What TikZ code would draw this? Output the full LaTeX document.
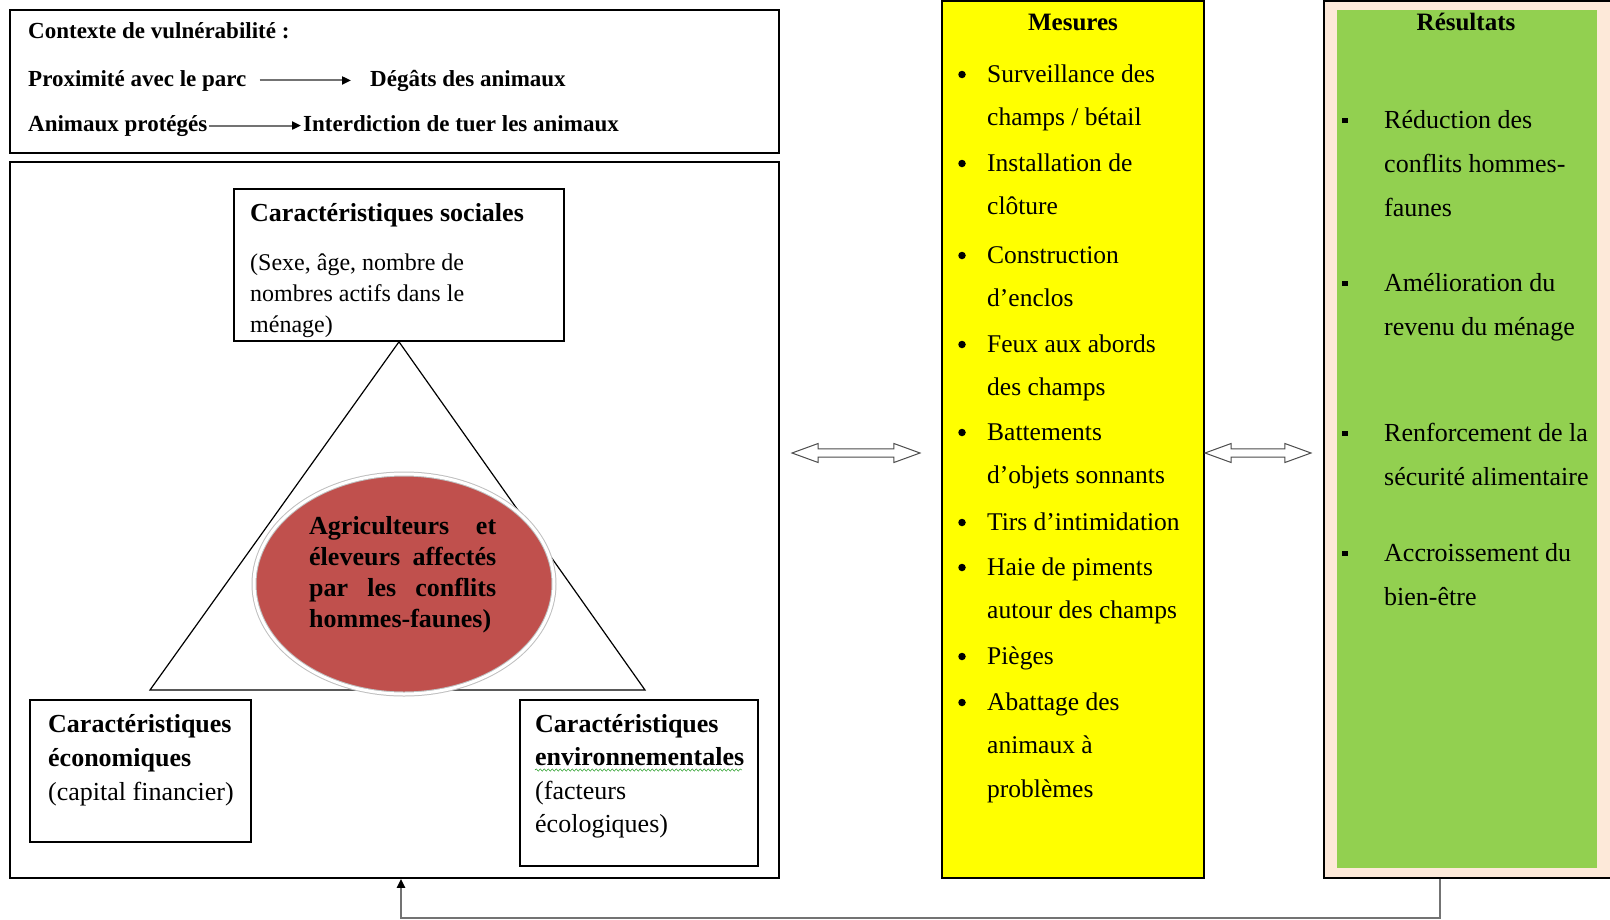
\documentclass[tikz,border=0pt]{standalone}
\usepackage{fontspec}
\setmainfont{Liberation Serif}
\usetikzlibrary{
  arrows.meta,
  calc,
  decorations.pathmorphing,
  positioning,
  shapes.arrows,
  shapes.geometric,
}
\definecolor{jaune}{HTML}{FFFF00}
\definecolor{vert}{HTML}{92D050}
\definecolor{rose}{HTML}{FDE9D9}
\definecolor{brique}{HTML}{C0504D}
\newcommand\taille[2]{\fontsize{#1}{#2}\selectfont}
\newcommand\pile[1]{\begin{tabular}[t]{@{}l@{}}#1\end{tabular}}
\tikzset{
  >={Triangle[length=9pt,width=8pt,color=black]},
  cadre/.style={rectangle,draw,line width=1.6pt,inner sep=0pt},
  texte/.style={inner sep=0pt,anchor=base west},
  ctx/.style={texte,font=\bfseries\taille{23}{23}},
  titre/.style={inner sep=0pt,anchor=base,font=\bfseries\taille{25}{25}},
  puce/.style={circle,fill,inner sep=0pt,minimum size=7.5pt},
  carre/.style={rectangle,fill,inner sep=0pt,minimum size=5.5pt},
  lien/.style={draw=black!55,line width=2pt},
  flechedouble/.style={double arrow,draw=black!70,fill=white,line width=1pt,
    inner xsep=0pt,inner ysep=3.7pt,double arrow head extend=5.3pt,
    double arrow tip angle=40},
}

\begin{document}
\begin{tikzpicture}[x=1pt,y=-1pt]
  \useasboundingbox (0,0) rectangle (1610,919);
  \clip (0,0) rectangle (1610,919);

  % contexte de vulnerabilite
  \node[cadre,minimum width=769pt,minimum height=143pt] (contexte) at (394.5,81.5) {};
  \node[ctx] (contextetitre) at (28,38) {Contexte de vulnérabilité :};
  \node[ctx] (parc) at (28,86) {Proximité avec le parc};
  \node[ctx] (degats) at (370,86) {Dégâts des animaux};
  \node[ctx] (proteges) at (28,131) {Animaux protégés};
  \node[ctx] (interdiction) at (303,131) {Interdiction de tuer les animaux};
  \draw[lien,->] ([xshift=13pt]parc.east) -- ([xshift=-19pt]parc.east -| degats.west);
  \draw[lien,->] ([xshift=1pt]proteges.east) -- ([xshift=-2pt]proteges.east -| interdiction.west);

  % cadre des caracteristiques
  \node[cadre,minimum width=769pt,minimum height=716pt] (systeme) at (394.5,520) {};
  \node[cadre,minimum width=330pt,minimum height=152pt] (social) at (399,265) {};
  \node[texte,font=\bfseries\taille{26}{26}] (socialtitre) at (250,221) {Caractéristiques sociales};
  \node[texte,font=\taille{24}{31}] (socialtexte) at (250,270)
    {\pile{(Sexe, âge, nombre de\\nombres actifs dans le\\ménage)}};

  \coordinate (basegauche) at (150,690);
  \coordinate (basedroite) at (645,690);
  \draw[line width=1.2pt] (social.south) -- (basegauche) -- (basedroite) -- cycle;

  \node[ellipse,fill=brique,draw=black!25,line width=1pt,double=white,double distance=3pt,
    minimum width=300pt,minimum height=220pt,inner sep=0pt] (coeur) at (404,584) {};
  \node[texte,font=\bfseries\taille{26}{31}] (coeurtexte) at (309,534)
    {\pile{\makebox[187pt][s]{Agriculteurs et}\\\makebox[187pt][s]{éleveurs affectés}\\
     \makebox[187pt][s]{par les conflits}\\hommes-faunes)}};

  \node[cadre,minimum width=221pt,minimum height=142pt] (economie) at (140.5,771) {};
  \node[texte,font=\taille{26}{34}] (economietexte) at (48,732)
    {\pile{\textbf{Caractéristiques}\\\textbf{économiques}\\(capital financier)}};
  \node[cadre,minimum width=238pt,minimum height=166pt] (environnement) at (639,783) {};
  \node[texte,font=\taille{26}{33.5}] (environnementtexte) at (535,732)
    {\pile{\textbf{Caractéristiques}\\\textbf{environnementales}\\(facteurs\\écologiques)}};
  \draw[green!55!black,decorate,decoration={snake,amplitude=1.2pt,segment length=4pt}] (535,770) -- (742,770);

  % mesures
  \node[cadre,fill=jaune,minimum width=262pt,minimum height=877pt] (mesures) at (1073,439.5) {};
  \node[titre] (mesurestitre) at (1073,30) {Mesures};
  \foreach \y/\t in {82/{Surveillance des\\champs / bétail}, 171/{Installation de\\clôture},
    263/{Construction\\d’enclos}, 352/{Feux aux abords\\des champs},
    440/{Battements\\d’objets sonnants}, 530/{Tirs d’intimidation},
    575/{Haie de piments\\autour des champs}, 664/{Pièges},
    710/{Abattage des\\animaux à\\problèmes}}
  {
    \node[puce] (puce\y) at (962,\y-7.5) {};
    \node[texte,font=\taille{25.5}{43.5}] (mesure\y) at (987,\y) {\pile{\t}};
  }

  % resultats
  \node[cadre,fill=rose,minimum width=288pt,minimum height=877pt] (resultats) at (1468,439.5) {};
  \node[fill=vert,inner sep=0pt,minimum width=260pt,minimum height=858pt] (fondvert) at (1467,439) {};
  \node[titre] (resultatstitre) at (1466,30) {Résultats};
  \foreach \y/\t in {128/{Réduction des\\conflits hommes-\\faunes}, 291/{Amélioration du\\revenu du ménage},
    441/{Renforcement de la\\sécurité alimentaire}, 561/{Accroissement du\\bien-être}}
  {
    \node[carre] (carre\y) at (1345,\y-7.5) {};
    \node[texte,font=\taille{26}{44}] (resultat\y) at (1384,\y) {\pile{\t}};
  }

  % echanges et retour
  \node[flechedouble,minimum height=128pt] (echange1) at (856,453) {};
  \node[flechedouble,minimum height=106pt] (echange2) at (1258,453) {};
  \draw[lien,->] ([xshift=-28pt]resultats.south) -- ++(0,39) -| ([xshift=6.5pt]systeme.south);

\end{tikzpicture}
\end{document}
